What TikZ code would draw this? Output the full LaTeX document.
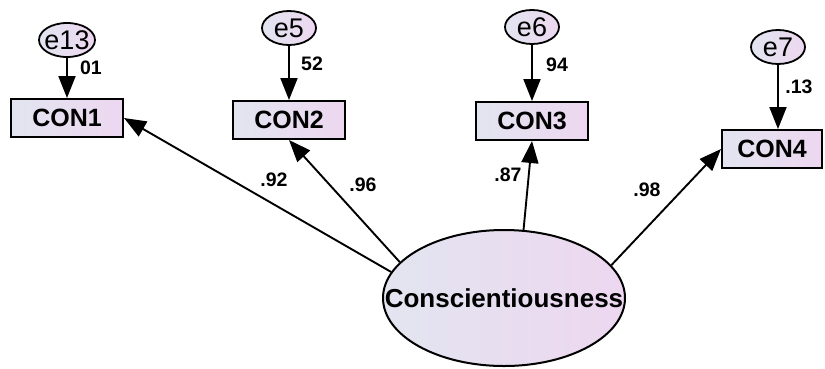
\documentclass[tikz,border=0pt]{standalone}
\usepackage{fontspec}
\setmainfont{Liberation Sans}
\usetikzlibrary{arrows.meta, shapes.geometric, positioning}
\definecolor{amosL}{RGB}{226,229,240}
\definecolor{amosR}{RGB}{237,215,240}

\begin{document}
\begin{tikzpicture}[x=1pt, y=-1pt,
  obs/.style={draw, line width=2pt, left color=amosL, right color=amosR, minimum width=112pt, minimum height=38pt, inner sep=0pt, font=\fontsize{25}{28}\selectfont\bfseries},
  err/.style={draw, ellipse, line width=1.8pt, left color=amosL, right color=amosR, minimum width=54pt, minimum height=34pt, inner sep=0pt, font=\fontsize{27}{28}\selectfont},
  lat/.style={draw, ellipse, line width=2pt, left color=amosL, right color=amosR, minimum width=242pt, minimum height=136pt, inner sep=0pt, font=\fontsize{26}{28}\selectfont\bfseries},
  lbl/.style={font=\fontsize{19.5}{20}\selectfont\bfseries, inner sep=0pt},
  reg/.style={line width=1.9pt, -{Triangle[length=22pt, width=17pt]}}]
\useasboundingbox (0,0) rectangle (825,368);

% indicators
\node[obs] (con1) at (67,118) {CON1};
\node[obs] (con2) at (289,120) {CON2};
\node[obs] (con3) at (532,121) {CON3};
\node[obs, minimum width=100pt] (con4) at (772,149) {CON4};

% error terms
\node[err, minimum width=56pt] (e13) at (67,40) {\makebox[0pt]{e13}};
\node[err] (e5) at (289,28) {\makebox[0pt]{e5}};
\node[err] (e6) at (532,27) {\makebox[0pt]{e6}};
\node[err] (e7) at (778,47) {\makebox[0pt]{e7}};

% latent factor
\node[lat] (lat) at (504,298) {\makebox[0pt]{Conscientiousness}};

\draw[reg] (e13) -- (con1);
\draw[reg] (e5) -- (con2);
\draw[reg] (e6) -- (con3);
\draw[reg] (e7.south) -- (e7.south |- con4.north);

\draw[reg] (lat.167) -- (con1.east);
\draw[reg] (lat.161) -- (con2.south);
\draw[reg] (lat.74) -- (con3.south);
\draw[reg] (lat.17) -- (con4.west);

% weights
\node[lbl] (w1) at (91,68) {01};
\node[lbl] (w2) at (312,64) {52};
\node[lbl] (w3) at (557,65) {94};
\node[lbl] (w4) at (799,87) {.13};
\node[lbl] (l1) at (274,180) {.92};
\node[lbl] (l2) at (363,185) {.96};
\node[lbl] (l3) at (508,175) {.87};
\node[lbl] (l4) at (647,190) {.98};
\end{tikzpicture}
\end{document}
